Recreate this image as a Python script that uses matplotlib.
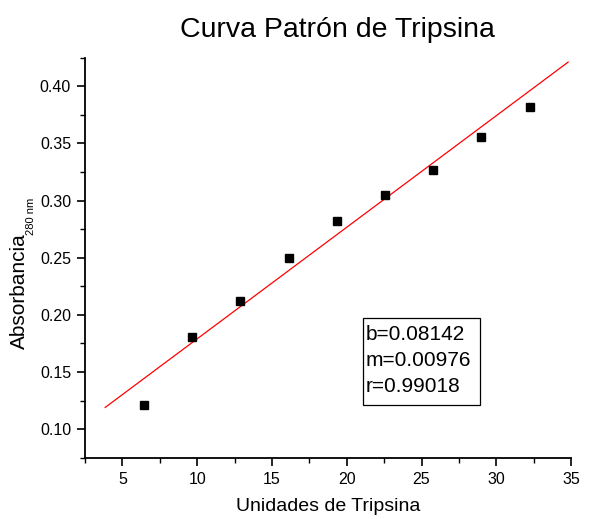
import numpy as np
import matplotlib.pyplot as plt
from matplotlib.ticker import MultipleLocator
from matplotlib.patches import Rectangle

plt.rcParams['font.family'] = ['Liberation Sans', 'DejaVu Sans']

# standard curve data
unidades = [6.44, 9.67, 12.89, 16.11, 19.33, 22.56, 25.78, 29.00, 32.22]
absorbancia = [0.1209, 0.1810, 0.2121, 0.2496, 0.2824, 0.3044, 0.3268, 0.3552, 0.3822]

# linear fit parameters
b = 0.08142
m = 0.00976
r = 0.99018
fit_x = [3.85, 34.8]

W, H = 590, 519
fig = plt.figure(figsize=(W / 100, H / 100), dpi=100)
ax = fig.add_axes([0.144, 0.118, 0.824, 0.771])

ax.plot(unidades, absorbancia, 's', color='black', markersize=6.3, zorder=3)
xs = np.array(fit_x)
ax.plot(xs, b + m * xs, color='red', linewidth=0.9, zorder=2)

ax.set_xlim(2.5, 35)
ax.set_ylim(0.075, 0.425)
ax.xaxis.set_major_locator(MultipleLocator(5))
ax.xaxis.set_minor_locator(MultipleLocator(2.5))
ax.yaxis.set_major_locator(MultipleLocator(0.05))
ax.yaxis.set_minor_locator(MultipleLocator(0.025))
ax.yaxis.set_major_formatter(plt.FormatStrFormatter('%.2f'))

for side in ['top', 'right']:
    ax.spines[side].set_visible(False)
for side in ['left', 'bottom']:
    ax.spines[side].set_linewidth(1.3)
ax.tick_params(which='major', direction='out', length=6, width=1.2, labelsize=11.5, pad=4)
ax.tick_params(which='minor', direction='out', length=3.5, width=1.0)

ax.set_xlabel('Unidades de Tripsina', fontsize=14, labelpad=8)

# y label with its subscript placed by hand
fig.text(19.5 / W, 1 - 291.5 / H, 'Absorbancia', fontsize=15, rotation=90,
         ha='center', va='center')
fig.text(31 / W, 1 - 216 / H, '280 nm', fontsize=8, rotation=90,
         ha='center', va='center')

fig.text(0.572, 1 - 30 / H, 'Curva Patrón de Tripsina', fontsize=20.5,
         ha='center', va='center')

# fit results box
ax.add_patch(Rectangle((0.572, 0.132), 0.241, 0.217, transform=ax.transAxes,
                       facecolor='white', edgecolor='black', linewidth=0.9, zorder=4))
ax.text(0.577, 0.243, 'b=%.5f\nm=%.5f\nr=%.5f' % (b, m, r), transform=ax.transAxes,
        fontsize=15, va='center', ha='left', linespacing=1.45, zorder=5)

fig.savefig('out.png', dpi=100)
